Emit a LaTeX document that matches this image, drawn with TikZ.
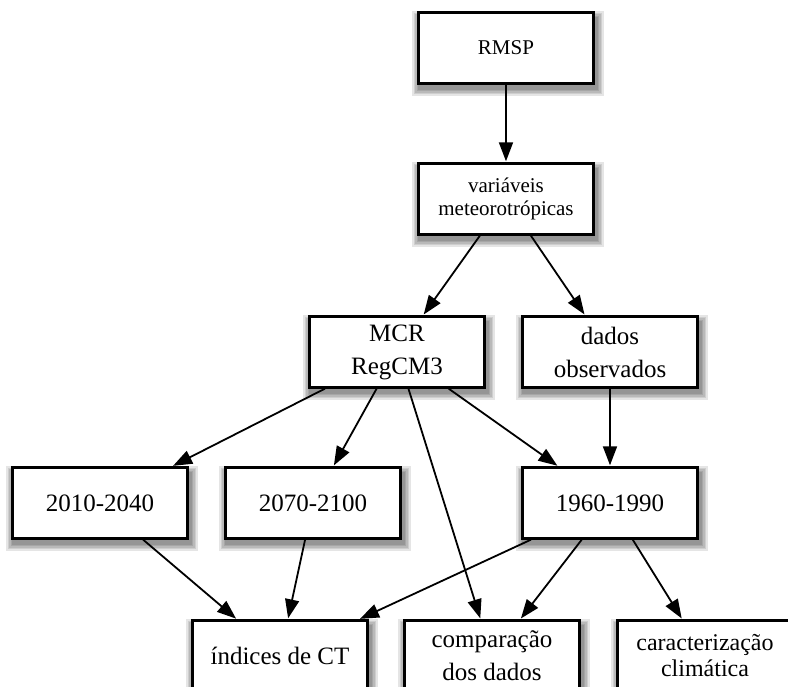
\documentclass[tikz,border=0pt]{standalone}
\usepackage{fontspec}
\setmainfont{Liberation Serif}
\usepackage{tikz}
\usetikzlibrary{positioning,arrows.meta,backgrounds}

\begin{document}
\begin{tikzpicture}[->,>={Triangle[length=19pt,width=14pt]},shorten >=1pt,
                    line width=1.8pt,node distance=151pt,
                    main node/.style={rectangle,draw,fill=white,line width=2.4pt,
                      minimum width=175pt,minimum height=71pt,align=center,
                      font=\fontsize{25}{33}\selectfont},
                    small text/.style={font=\fontsize{21}{23}\selectfont},
                    soft shadow/.style={fill=black,opacity=.1,draw=none}]

       \useasboundingbox (-506pt,48pt) rectangle (282pt,-639pt);
       \clip (-506pt,48pt) rectangle (282pt,-639pt);

       \node[main node,small text] (rmsp) at (0,0) {RMSP};
       \node[main node,small text] (vars) [below of=rmsp] {variáveis\\meteorotrópicas};
       \node[main node] (mcr) [below of=vars,node distance=153pt,xshift=-109pt] {MCR\\RegCM3};
       \node[main node] (obs) [right of=mcr,node distance=213pt] {dados\\observados};
       \node[main node] (p3) [below of=obs] {1960-1990};
       \node[main node] (p2) [left of=p3,node distance=297pt] {2070-2100};
       \node[main node] (p1) [left of=p2,node distance=213pt] {2010-2040};
       \node[main node] (ict) [below of=p2,node distance=153pt,xshift=-33pt] {índices de CT};
       \node[main node] (comp) [right of=ict,node distance=212pt] {comparação\\dos dados};
       \node[main node,font=\fontsize{24}{26}\selectfont] (clima) [right of=comp,node distance=213pt] {caracterização\\climática};

       % blurred shadows under the boxes
       \begin{scope}[on background layer]
         \foreach \n in {rmsp,vars,mcr,obs,p1,p2,p3,ict,comp,clima}
           \foreach \e in {0,1.5,3,4.5,6}
             \fill[soft shadow] ([shift={(1pt-\e pt,-5pt-\e pt)}]\n.south west)
                                rectangle ([shift={(3pt+\e pt,-6pt+\e pt)}]\n.north east);
       \end{scope}

       \path
         (rmsp) edge (vars)
         (vars) edge (mcr)
                edge (obs)
         (mcr) edge (p1)
               edge (p2)
               edge (comp)
               edge (p3)
         (obs) edge (p3)
         (p1) edge (ict)
         (p2) edge (ict)
         (p3) edge (ict)
              edge (comp)
              edge (clima);

    \end{tikzpicture}
\end{document}
